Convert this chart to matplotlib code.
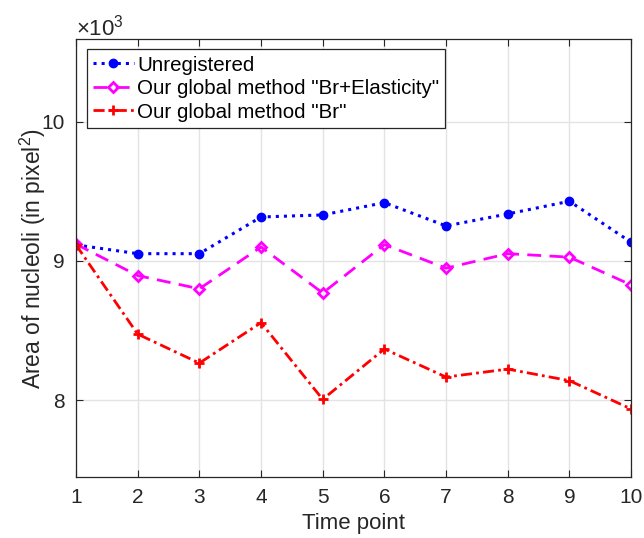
import matplotlib
matplotlib.use("Agg")
import matplotlib.pyplot as plt

plt.rcParams['font.family'] = ['Liberation Sans', 'DejaVu Sans']
plt.rcParams['mathtext.fontset'] = 'custom'
plt.rcParams['mathtext.rm'] = 'Liberation Sans'

time_points = [1, 2, 3, 4, 5, 6, 7, 8, 9, 10]
unregistered = [9115, 9052, 9052, 9315, 9330, 9418, 9251, 9337, 9428, 9134]
br_elasticity = [9120, 8895, 8800, 9100, 8770, 9117, 8948, 9052, 9027, 8828]
br_only = [9115, 8475, 8267, 8557, 8007, 8368, 8167, 8224, 8141, 7938]

labels = ['Unregistered',
          'Our global method "Br+Elasticity"',
          'Our global method "Br"']

fig = plt.figure(figsize=(6.44, 5.38), dpi=100)
ax = fig.add_axes([0.118, 0.1134, 0.862, 0.8136])

scale = 1000.0
ax.plot(time_points, [v / scale for v in unregistered], color='#0000ff',
        linestyle=':', linewidth=2.2, marker='o', markersize=6,
        label=labels[0])
ax.plot(time_points, [v / scale for v in br_elasticity], color='#ff00ff',
        linestyle=(0, (5, 3)), linewidth=2.0, marker='D', markersize=5.5,
        markerfacecolor='none', markeredgewidth=2.0, label=labels[1])
ax.plot(time_points, [v / scale for v in br_only], color='#ff0000',
        linestyle=(0, (4, 1.5, 1, 1.5)), linewidth=2.0, marker='+',
        markersize=7, markeredgewidth=2.0, label=labels[2])

ax.set_xlim(1, 10)
ax.set_ylim(7.45, 10.59)
ax.set_xticks(time_points)
ax.set_yticks([8, 9, 10])
ax.grid(True, color='#e3e3e3', linewidth=1.0)
ax.set_axisbelow(True)

ax.tick_params(direction='in', top=True, right=True, length=5,
               labelsize=15, colors='#262626', pad=8, width=0.8)
for s in ax.spines.values():
    s.set_color('#262626')
    s.set_linewidth(0.9)

ax.set_xlabel('Time point', fontsize=16, color='#262626', labelpad=4)
ax.set_ylabel(r'Area of nucleoli (in pixel$^{2}$)', fontsize=16.5,
              color='#262626', labelpad=-4.5)

ax.text(0.0, 0.997, r'$\times10^{3}$', transform=ax.transAxes,
        fontsize=16, color='#262626', ha='left', va='bottom')

leg = ax.legend(loc='upper left', bbox_to_anchor=(0.0193, 0.977),
                fontsize=14.8, frameon=True, fancybox=False,
                edgecolor='#262626', framealpha=1.0, handlelength=2.0,
                handletextpad=0.15, borderpad=0.3, labelspacing=0.22,
                borderaxespad=0.0)
leg.get_frame().set_linewidth(0.9)

fig.savefig('out.png', dpi=100)
